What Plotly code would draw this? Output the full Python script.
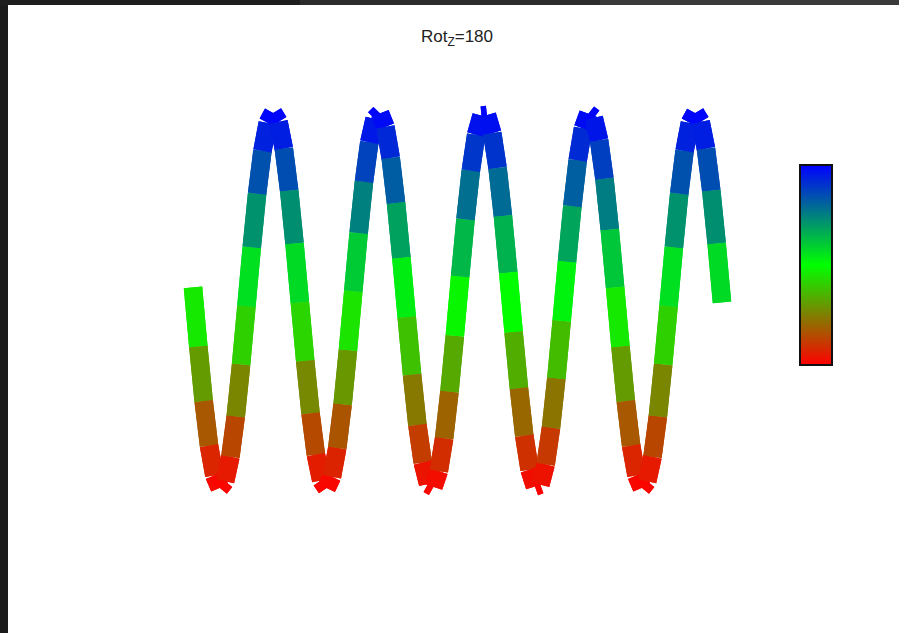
import plotly.graph_objects as go
from plotly.colors import sample_colorscale

# ---- data ----
sample_index = list(range(100))
height_values = [
    0.070, -0.246, -0.537, -0.774, -0.933, -0.999, -0.964, -0.833, -0.618, -0.341,
    -0.030, 0.284, 0.570, 0.798, 0.947, 1.000, 0.953, 0.810, 0.586, 0.304,
    -0.010, -0.322, -0.602, -0.822, -0.959, -1.000, -0.940, -0.786, -0.554, -0.265,
    0.050, 0.360, 0.633, 0.844, 0.969, 0.998, 0.926, 0.761, 0.520, 0.227,
    -0.089, -0.396, -0.664, -0.864, -0.978, -0.994, -0.910, -0.735, -0.486, -0.188,
    0.129, 0.433, 0.693, 0.884, 0.986, 0.989, 0.893, 0.707, 0.451, 0.149,
    -0.168, -0.468, -0.721, -0.902, -0.992, -0.982, -0.874, -0.678, -0.415, -0.109,
    0.207, 0.503, 0.748, 0.918, 0.996, 0.974, 0.854, 0.649, 0.378, 0.070,
    -0.246, -0.537, -0.774, -0.933, -0.999, -0.964, -0.833, -0.618, -0.341, -0.030,
    0.284, 0.570, 0.798, 0.947, 1.000, 0.953, 0.810, 0.586, 0.304, -0.010,
]
title_text = "Rot<sub>Z</sub>=180"

colorscale = [[0.0, "rgb(255,0,0)"], [0.5, "rgb(0,255,0)"], [1.0, "rgb(0,0,255)"]]
cmin, cmax = -1.0, 1.0

fig = go.Figure()

# one thick segment per pair of neighbouring samples, coloured by its mean height
seg_colors = []
for i in range(len(sample_index) - 1):
    mean_val = (height_values[i] + height_values[i + 1]) / 2.0
    frac = (mean_val - cmin) / (cmax - cmin)
    seg_colors.append(sample_colorscale(colorscale, [frac])[0])

# two passes so the anti-aliased seams between abutting segments close up
for _pass in range(2):
    for i, col in enumerate(seg_colors):
        fig.add_trace(go.Scatter(
            x=sample_index[i:i + 2], y=height_values[i:i + 2],
            mode="lines", line=dict(color=col, width=18.5),
            hoverinfo="skip", showlegend=False,
        ))

# invisible trace carrying the colour bar
fig.add_trace(go.Scatter(
    x=sample_index, y=height_values, mode="markers",
    marker=dict(size=1, opacity=0, color=height_values, colorscale=colorscale,
                cmin=cmin, cmax=cmax, showscale=True,
                colorbar=dict(x=800 / 899, xanchor="left", y=1 - 265 / 633,
                              yanchor="middle", len=200 / 633, lenmode="fraction",
                              thickness=32, thicknessmode="pixels",
                              outlinecolor="#111", outlinewidth=2,
                              showticklabels=False, ticks="", xpad=0, ypad=0,
                              borderwidth=0)),
    hoverinfo="skip", showlegend=False,
))

fig.update_layout(
    width=899, height=633,
    margin=dict(l=0, r=0, t=0, b=0),
    paper_bgcolor="white", plot_bgcolor="white",
    title=dict(text=title_text, x=457 / 899, xanchor="center", xref="paper",
               y=1 - 36.5 / 633, yanchor="middle", yref="container",
               font=dict(family="Liberation Sans, Arial, sans-serif", size=17, color="#222")),
    xaxis=dict(visible=False, range=[-36.12, 132.13], fixedrange=True),
    yaxis=dict(visible=False, range=[-1.7733, 1.6027], fixedrange=True),
    shapes=[
        dict(type="rect", xref="paper", yref="paper", x0=0, x1=8 / 899, y0=0, y1=1,
             fillcolor="#1b1b1b", line=dict(width=0), layer="above"),
        dict(type="rect", xref="paper", yref="paper", x0=0, x1=300 / 899, y0=1 - 5 / 633, y1=1,
             fillcolor="#1e1e1e", line=dict(width=0), layer="above"),
        dict(type="rect", xref="paper", yref="paper", x0=300 / 899, x1=600 / 899, y0=1 - 5 / 633, y1=1,
             fillcolor="#2c2c2c", line=dict(width=0), layer="above"),
        dict(type="rect", xref="paper", yref="paper", x0=600 / 899, x1=1, y0=1 - 5 / 633, y1=1,
             fillcolor="#3a3a3a", line=dict(width=0), layer="above"),
    ],
)

fig.write_html("out.html")
